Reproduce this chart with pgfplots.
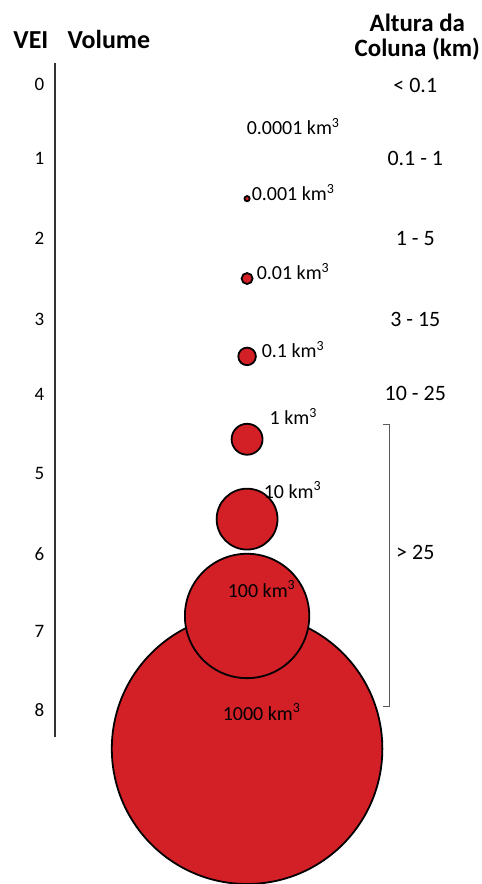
\documentclass[border=0pt]{standalone}
\usepackage{pgfplots}
\pgfplotsset{compat=1.18}
\usepackage{pgfplotstable}
\usepackage{fontspec}
\setmainfont{Carlito}
\definecolor{vred}{RGB}{211,32,39}
\definecolor{lgray}{RGB}{90,90,90}
\pgfplotstableread[col sep=comma]{
x,y,r
247.5,750,135.5
247.5,617,62.3
247.5,520,30.5
247.5,440,15.5
247.5,357,8.8
247.5,279,5.5
247.5,199,2.6
}\circles
\pgfplotstableread[col sep=comma]{
y,lab
85,0
159,1
239,2
320,3
395,4
474,5
555,6
632,7
711,8
}\vei
\begin{document}
\begin{tikzpicture}
\begin{axis}[width=482pt,height=884pt,scale only axis,
  xmin=0,xmax=482,ymin=0,ymax=884,y dir=reverse,
  axis lines=none, clip=true]
% circles (largest first)
\addplot[scatter, only marks, mark=*,
  scatter/use mapped color={draw=black,fill=vred},
  mark options={line width=1.8pt},
  visualization depends on={\thisrow{r} \as \rad},
  scatter/@pre marker code/.append style={/tikz/mark size=\rad pt}]
  table[x=x,y=y] {\circles};
% VEI axis line
\addplot[black!80, line width=1.3pt] coordinates {(55,63) (55,738)};
% bracket
\addplot[lgray, line width=1.1pt] coordinates {(384,425) (390,425) (390,708) (384,708)};
% VEI numbers
\addplot[only marks, mark=none, nodes near coords, point meta=explicit symbolic,
  nodes near coords style={anchor=center, inner sep=0pt, font=\fontsize{19}{19}\selectfont, text=black}]
  table[x expr=39.5, y=y, meta=lab] {\vei};
% heights
\addplot[only marks, mark=none, nodes near coords, point meta=explicit symbolic,
  nodes near coords style={anchor=center, inner sep=0pt, font=\fontsize{22}{22}\selectfont, text=black}]
  table[col sep=comma, x=x, y=y, meta=lab] {
x,y,lab
416,86,{< 0.1}
416,159,{0.1 - 1}
416,239,{1 - 5}
416,320,{3 - 15}
416,394,{10 - 25}
416,553,{> 25}
};
% volume labels (west anchored)
\addplot[only marks, mark=none, nodes near coords, point meta=explicit symbolic,
  nodes near coords style={anchor=west, inner sep=0pt, font=\fontsize{20}{20}\selectfont, text=black}]
  table[col sep=comma, x=x, y=y, meta=lab] {
x,y,lab
247,127,{0.0001 km\textsuperscript{3}}
252,193,{0.001 km\textsuperscript{3}}
257,272,{0.01 km\textsuperscript{3}}
262,350,{0.1 km\textsuperscript{3}}
270,417,{1 km\textsuperscript{3}}
264,491,{10 km\textsuperscript{3}}
};
% centred volume labels
\addplot[only marks, mark=none, nodes near coords, point meta=explicit symbolic,
  nodes near coords style={anchor=center, inner sep=0pt, font=\fontsize{20}{20}\selectfont, text=black}]
  table[col sep=comma, x=x, y=y, meta=lab] {
x,y,lab
262,590,{100 km\textsuperscript{3}}
262,713,{1000 km\textsuperscript{3}}
};
% titles
\node[font=\bfseries\fontsize{26}{26}\selectfont, anchor=center, inner sep=0pt] at (axis cs:31,40) {VEI};
\node[font=\bfseries\fontsize{26}{26}\selectfont, anchor=center, inner sep=0pt] at (axis cs:109,40) {Volume};
\node[font=\bfseries\fontsize{25}{25}\selectfont, align=center, anchor=center, inner sep=0pt] at (axis cs:418,37) {Altura da\\Coluna (km)};
\end{axis}
\useasboundingbox (current axis.south west) rectangle (current axis.north east);
\end{tikzpicture}
\end{document}
